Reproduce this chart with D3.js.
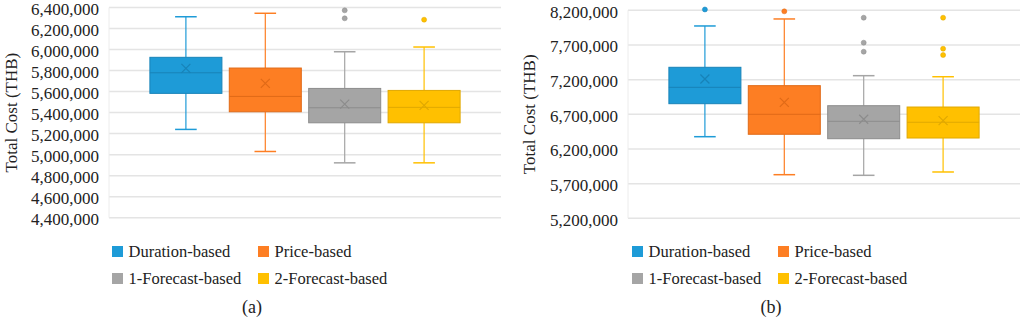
<!DOCTYPE html>
<html>
<head>
<meta charset="utf-8">
<script src="https://cdn.jsdelivr.net/npm/d3@7"></script>
<style>
body { margin: 0; background: #fff; }
svg text { font-family: "Liberation Serif", Tinos, "Times New Roman", Times, "DejaVu Serif", "Noto Serif", serif; fill: #222; }
</style>
</head>
<body>
<script>
// series + colours
var seriesNames = ["Duration-based", "Price-based", "1-Forecast-based", "2-Forecast-based"];
var fillColors = ["#1E9BD7", "#FD7E23", "#A5A5A5", "#FFC000"];
var lineColors = ["#1883B8", "#E06A17", "#8C8C8C", "#E0A800"];

// panel (a) box stats
var aLow    = [5240000, 5030000, 4922000, 4922000];
var aQ1     = [5583000, 5408000, 5303000, 5303000];
var aMedian = [5779000, 5554000, 5446000, 5450000];
var aQ3     = [5926000, 5824000, 5630000, 5611000];
var aHigh   = [6312000, 6345000, 5979000, 6024000];
var aMean   = [5821000, 5678000, 5481000, 5469000];
var aOutliers = [[], [], [6373000, 6297000], [6284000]];
var aTicks = [4400000, 4600000, 4800000, 5000000, 5200000, 5400000, 5600000, 5800000, 6000000, 6200000, 6400000];

// panel (b) box stats
var bLow    = [6377000, 5829000, 5820000, 5868000];
var bQ1     = [6853000, 6412000, 6348000, 6358000];
var bMedian = [7089000, 6700000, 6599000, 6585000];
var bQ3     = [7378000, 7113000, 6824000, 6805000];
var bHigh   = [7974000, 8075000, 7257000, 7242000];
var bMean   = [7209000, 6873000, 6628000, 6608000];
var bOutliers = [[8212000], [8185000], [8093000, 7733000, 7603000], [8093000, 7646000, 7555000]];
var bTicks = [5200000, 5700000, 6200000, 6700000, 7200000, 7700000, 8200000];

var W = 1024, H = 323;
var svg = d3.select("body").append("svg").attr("width", W).attr("height", H);
var fmt = d3.format(",");

function drawPanel(p) {
	var g = svg.append("g");
	var y = d3.scaleLinear().domain([p.ticks[0], p.ticks[p.ticks.length - 1]]).range([p.y1, p.y0]);
	var x = d3.scaleBand().domain(seriesNames).range([p.x0, p.x1]).paddingInner(0.093).paddingOuter(0.515);

	// gridlines
	g.selectAll("line.grid").data(p.ticks).enter().append("line")
		.attr("x1", p.x0).attr("x2", p.x1)
		.attr("y1", function(d) { return y(d); }).attr("y2", function(d) { return y(d); })
		.attr("stroke", "#E4E4E4").attr("stroke-width", 1.5);
	g.append("line").attr("x1", p.x0).attr("x2", p.x0).attr("y1", p.y0).attr("y2", p.y1)
		.attr("stroke", "#ECECEC").attr("stroke-width", 1);

	// y axis labels
	var axis = d3.axisLeft(y).tickValues(p.ticks).tickFormat(fmt).tickSize(0).tickPadding(0);
	var ax = g.append("g").attr("transform", "translate(" + p.labelX + ",0)").call(axis)
		.attr("font-family", null).attr("font-size", null);
	ax.select(".domain").remove();
	ax.selectAll("text").style("font-size", "17px").attr("dy", "0.4em").attr("fill", "#222");

	g.append("text")
		.attr("transform", "translate(" + p.titleX + "," + ((p.y0 + p.y1) / 2) + ") rotate(-90)")
		.attr("text-anchor", "middle").attr("dy", "0.35em")
		.style("font-size", "17px")
		.text("Total Cost (THB)");

	// boxes
	seriesNames.forEach(function(name, i) {
		var bx = x(name), bw = x.bandwidth(), cx = bx + bw / 2, cap = bw * 0.15;
		var col = fillColors[i], lc = lineColors[i];
		// whiskers
		g.append("line").attr("x1", cx).attr("x2", cx).attr("y1", y(p.high[i])).attr("y2", y(p.q3[i])).attr("stroke", col).attr("stroke-width", 1.2);
		g.append("line").attr("x1", cx).attr("x2", cx).attr("y1", y(p.q1[i])).attr("y2", y(p.low[i])).attr("stroke", col).attr("stroke-width", 1.2);
		g.append("line").attr("x1", cx - cap).attr("x2", cx + cap).attr("y1", y(p.high[i])).attr("y2", y(p.high[i])).attr("stroke", col).attr("stroke-width", 1.5);
		g.append("line").attr("x1", cx - cap).attr("x2", cx + cap).attr("y1", y(p.low[i])).attr("y2", y(p.low[i])).attr("stroke", col).attr("stroke-width", 1.5);
		// box
		g.append("rect").attr("x", bx).attr("y", y(p.q3[i])).attr("width", bw).attr("height", y(p.q1[i]) - y(p.q3[i]))
			.attr("fill", col).attr("stroke", lc).attr("stroke-width", 1);
		// median
		g.append("line").attr("x1", bx).attr("x2", bx + bw).attr("y1", y(p.median[i])).attr("y2", y(p.median[i]))
			.attr("stroke", lc).attr("stroke-width", 1);
		// mean marker
		var my = y(p.mean[i]), s = 4.5;
		g.append("path").attr("d", "M" + (cx - s) + "," + (my - s) + "L" + (cx + s) + "," + (my + s) + "M" + (cx - s) + "," + (my + s) + "L" + (cx + s) + "," + (my - s))
			.attr("stroke", lc).attr("stroke-width", 1.2).attr("fill", "none");
		// outliers
		g.selectAll(null).data(p.outliers[i]).enter().append("circle")
			.attr("cx", cx).attr("cy", function(d) { return y(d); }).attr("r", 2.5)
			.attr("fill", col).attr("stroke", lc).attr("stroke-width", 0.5);
	});

	// legend
	var lx = [p.legX, p.legX + 146], ly = [251.5, 278.5];
	seriesNames.forEach(function(name, i) {
		var col = i % 2, row = Math.floor(i / 2);
		g.append("rect").attr("x", lx[col]).attr("y", ly[row] - 5.5).attr("width", 11).attr("height", 11).attr("fill", fillColors[i]);
		g.append("text").attr("x", lx[col] + 16.5).attr("y", ly[row]).attr("dy", "0.35em")
			.style("font-size", "16.5px").text(name);
	});

	g.append("text").attr("x", p.capX).attr("y", 307).attr("dy", "0.35em").attr("text-anchor", "middle")
		.style("font-size", "18px").text(p.caption);
}

drawPanel({ x0: 109, x1: 501, y0: 7.5, y1: 217.7, ticks: aTicks, labelX: 99, titleX: 11,
	low: aLow, q1: aQ1, median: aMedian, q3: aQ3, high: aHigh, mean: aMean, outliers: aOutliers,
	legX: 112, capX: 252, caption: "(a)" });
drawPanel({ x0: 628, x1: 1020, y0: 10.3, y1: 218.3, ticks: bTicks, labelX: 618, titleX: 529,
	low: bLow, q1: bQ1, median: bMedian, q3: bQ3, high: bHigh, mean: bMean, outliers: bOutliers,
	legX: 632, capX: 771, caption: "(b)" });
</script>
</body>
</html>
